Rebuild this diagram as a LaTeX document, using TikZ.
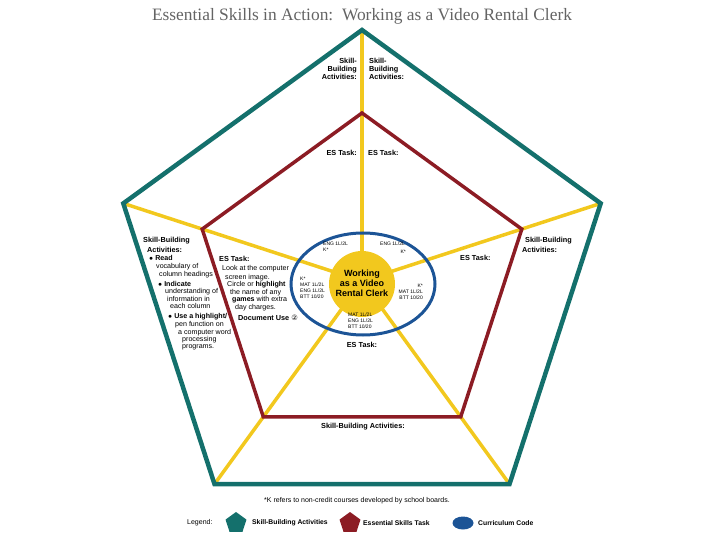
\documentclass[tikz,border=0pt]{standalone}
\usepackage{fontspec}
\setmainfont{Liberation Sans}
\newfontfamily\titlefont{Liberation Serif}
\newfontfamily\dejavu{DejaVu Sans}
\usetikzlibrary{shapes.geometric}
\definecolor{teal1}{RGB}{20,112,108}
\definecolor{red1}{RGB}{140,28,36}
\definecolor{yel1}{RGB}{242,200,30}
\definecolor{blue1}{RGB}{28,84,150}
\definecolor{gray1}{RGB}{100,100,100}
\begin{document}
\begin{tikzpicture}[x=1pt,y=-1pt,
  lbl/.style={font=\fontsize{7.3}{8}\selectfont\bfseries, inner sep=0pt},
  txt/.style={font=\fontsize{7.1}{8}\selectfont, inner sep=0pt, anchor=base west},
  cc/.style={font=\fontsize{5}{6}\selectfont, inner sep=0pt},
  lgt/.style={font=\fontsize{6.8}{8}\selectfont\bfseries, inner sep=0pt, anchor=west},
  outerline/.style={draw=teal1, line width=4.5pt, line join=miter},
  innerline/.style={draw=red1, line width=3.5pt, line join=miter},
  spoke/.style={draw=yel1, line width=3.5pt}]
\useasboundingbox (0,0) rectangle (720,540);
% coordinates
\coordinate (C) at (362,281);
\coordinate (O1) at (362,30);
\coordinate (O2) at (123.3,203.4);
\coordinate (O3) at (214.5,484.1);
\coordinate (O4) at (509.5,484.1);
\coordinate (O5) at (600.7,203.4);
\coordinate (I1) at (362,113);
\coordinate (I2) at (202.2,229.1);
\coordinate (I3) at (263.3,416.9);
\coordinate (I4) at (460.7,416.9);
\coordinate (I5) at (521.8,229.1);
% title
\node[font=\titlefont\fontsize{17.4}{19}\selectfont, text=gray1, inner sep=0pt] (title) at (362,16) {Essential Skills in Action:\ \ Working as a Video Rental Clerk};
% spokes
\foreach \v in {O1,O2,O3,O4,O5} \draw[spoke] (C) -- (\v);
% pentagons
\draw[innerline] (I1) -- (I2) -- (I3) -- (I4) -- (I5) -- cycle;
\draw[outerline] (O1) -- (O2) -- (O3) -- (O4) -- (O5) -- cycle;
% ellipse and disk
\draw[blue1, line width=3pt] (363,284) ellipse [x radius=72, y radius=51];
\node[circle, fill=yel1, minimum size=66pt, inner sep=0pt] (disk) at (362,284) {};
\node[font=\fontsize{9}{10}\selectfont\bfseries, align=center, inner sep=0pt] (hub) at (362,283) {Working\\as a Video\\Rental Clerk};
% top labels
\node[lbl, align=right, anchor=north east] (tsl) at (357,58) {Skill-\\Building\\Activities:};
\node[lbl, align=left, anchor=north west] (tsr) at (369,58) {Skill-\\Building\\Activities:};
\node[lbl, anchor=east] (tel) at (357,153) {ES Task:};
\node[lbl, anchor=west] (ter) at (368,153) {ES Task:};
% right labels
\node[lbl, anchor=west] (rs1) at (525,241) {Skill-Building};
\node[lbl, anchor=west] (rs2) at (522,249.5) {Activities:};
\node[lbl, anchor=west] (ret) at (460,258) {ES Task:};
% bottom labels
\node[lbl] (bsb) at (363,427) {Skill-Building Activities:};
\node[lbl] (bet) at (362,345) {ES Task:};
% left skill-building block
\node[lbl, anchor=west] (ls1) at (143,241) {Skill-Building};
\node[lbl, anchor=west] (ls2) at (147,249.5) {Activities:};
\node[txt] (l1) at (149,260.5) {$\bullet$ \textbf{Read}};
\node[txt] (l2) at (156,268.5) {vocabulary of};
\node[txt] (l3) at (159,276.5) {column headings};
\node[txt] (l4) at (158,286) {$\bullet$ \textbf{Indicate}};
\node[txt] (l5) at (165,293.5) {understanding of};
\node[txt] (l6) at (167,301.5) {information in};
\node[txt] (l7) at (170,308.5) {each column};
\node[txt] (l8) at (168,318.5) {$\bullet$ \textbf{Use a highlight/}};
\node[txt] (l9) at (175,326.5) {pen function on};
\node[txt] (l10) at (178,334.5) {a computer word};
\node[txt] (l11) at (182,341.5) {processing};
\node[txt] (l12) at (182,348.5) {programs.};
% left ES task block
\node[lbl, anchor=west] (let) at (219,259) {ES Task:};
\node[txt] (e1) at (222,270.5) {Look at the computer};
\node[txt] (e2) at (225,279) {screen image.};
\node[txt] (e3) at (227,286.5) {Circle or \textbf{highlight}};
\node[txt] (e4) at (230,294.5) {the name of any};
\node[txt] (e5) at (232,301.5) {\textbf{games} with extra};
\node[txt] (e6) at (235,309.5) {day charges.};
\node[lbl, anchor=west] (e7) at (238,318) {Document Use {\dejavu\mdseries ②}};
% curriculum codes
\node[cc, align=left, anchor=north west] (c1) at (323,242) {ENG 1L/2L\\K*};
\node[cc, anchor=north west] (c2a) at (380,242) {ENG 1L/2L};
\node[cc, anchor=north east] (c2b) at (406,250) {K*};
\node[cc, align=left, anchor=north west] (c3) at (300,277) {K*\\MAT 1L/2L\\ENG 1L/2L\\BTT 10/20};
\node[cc, align=right, anchor=north east] (c4) at (423,284) {K*\\MAT 1L/2L\\BTT 10/20};
\node[cc, align=left, anchor=north west] (c5) at (348,313) {MAT 1L/2L\\ENG 1L/2L\\BTT 10/20};
% footnote
\node[font=\fontsize{7}{8}\selectfont, inner sep=0pt] (fn) at (357,501) {*K refers to non-credit courses developed by school boards.};
% legend
\node[font=\fontsize{7}{8}\selectfont, inner sep=0pt, anchor=west] (lg) at (187,523) {Legend:};
\node[regular polygon, regular polygon sides=5, fill=teal1, minimum size=22pt, inner sep=0pt] (lg1) at (236,523) {};
\node[lgt] (lg1t) at (252,523) {Skill-Building Activities};
\node[regular polygon, regular polygon sides=5, fill=red1, minimum size=22pt, inner sep=0pt] (lg2) at (350,523) {};
\node[lgt] (lg2t) at (363,523) {Essential Skills Task};
\node[ellipse, fill=blue1, minimum width=21pt, minimum height=13pt, inner sep=0pt] (lg3) at (463,523) {};
\node[lgt] (lg3t) at (478,523) {Curriculum Code};
\end{tikzpicture}
\end{document}
